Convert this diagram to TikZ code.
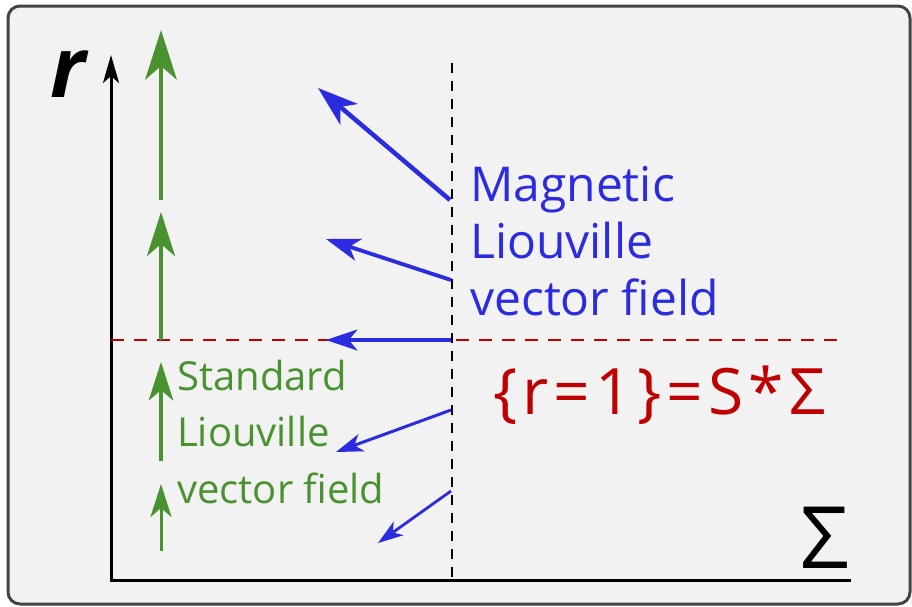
\documentclass[tikz,border=0pt]{standalone}
\usepackage{fontspec}
\setmainfont{Open Sans}
\usetikzlibrary{arrows.meta}
\definecolor{bg}{HTML}{F2F2F2}
\definecolor{frame}{HTML}{444444}
\definecolor{gr}{HTML}{4A922F}
\definecolor{bl}{HTML}{2B2BE0}
\definecolor{rd}{HTML}{C00000}
\tikzset{
  garrow/.style={draw=gr, line width=#1, -{Stealth[length=11*#1, width=7*#1, inset=3*#1]}},
  barrow/.style={draw=bl, line width=#1, -{Stealth[length=9*#1, width=6*#1, inset=2.5*#1]}},
  lbl/.style={anchor=base west, inner sep=0pt, align=left},
}
\begin{document}
\begin{tikzpicture}[x=1pt,y=-1pt]
\useasboundingbox (0,0) rectangle (912,606);
\draw[frame, line width=3pt, fill=bg, rounded corners=12pt] (8,6) rectangle (910,604);
% axes
\coordinate (O) at (111,580);
\coordinate (ytop) at (111,55);
\coordinate (xend) at (851,580);
\draw[line width=3pt, -{Stealth[length=28pt,width=16pt,inset=7pt]}] (xend) -- (O) -- (ytop);
\node[lbl, font=\fontsize{84}{84}\selectfont\bfseries\itshape] (rl) at (50,97) {r};
\node[lbl, font=\fontsize{86}{86}\selectfont] (sl) at (800,568) {Σ};
% dashed lines
\coordinate (vt) at (452,63);
\coordinate (vb) at (452,580);
\draw[line width=1.6pt, dash pattern=on 10pt off 8pt] (vt) -- (vb);
\coordinate (hl) at (111,340);
\coordinate (hr) at (846,340);
\draw[rd, line width=1.6pt, dash pattern=on 13pt off 10pt] (hl) -- (hr);
% green arrows
\coordinate (g1a) at (161,200); \coordinate (g1b) at (161,30);
\coordinate (g2a) at (161,340); \coordinate (g2b) at (161,212);
\coordinate (g3a) at (161,461); \coordinate (g3b) at (161,362);
\coordinate (g4a) at (161,551); \coordinate (g4b) at (161,484);
\draw[garrow=4.5pt] (g1a) -- (g1b);
\draw[garrow=4pt] (g2a) -- (g2b);
\draw[garrow=3.5pt] (g3a) -- (g3b);
\draw[garrow=3pt] (g4a) -- (g4b);
% blue arrows
\coordinate (b1a) at (450,200); \coordinate (b1b) at (318,88);
\coordinate (b2a) at (451,280); \coordinate (b2b) at (326,239);
\coordinate (b3a) at (451,340); \coordinate (b3b) at (326,340);
\coordinate (b4a) at (451,410); \coordinate (b4b) at (336,452);
\coordinate (b5a) at (451,491); \coordinate (b5b) at (378,543);
\draw[barrow=4.5pt] (b1a) -- (b1b);
\draw[barrow=3.8pt] (b2a) -- (b2b);
\draw[barrow=3.5pt] (b3a) -- (b3b);
\draw[barrow=3pt] (b4a) -- (b4b);
\draw[barrow=2.8pt] (b5a) -- (b5b);
% texts
\node[lbl, bl, font=\fontsize{48}{57}\selectfont] (mag) at (470,315) {Magnetic\\Liouville\\vector field};
\node[lbl, gr, font=\fontsize{40}{56.5}\selectfont] (std) at (177,503) {Standard\\Liouville\\vector field};
\node[lbl, rd, font=\fontsize{64}{64}\selectfont\addfontfeature{LetterSpace=8}] (eq) at (493,414) {\{r=1\}=S*Σ};
\end{tikzpicture}
\end{document}
